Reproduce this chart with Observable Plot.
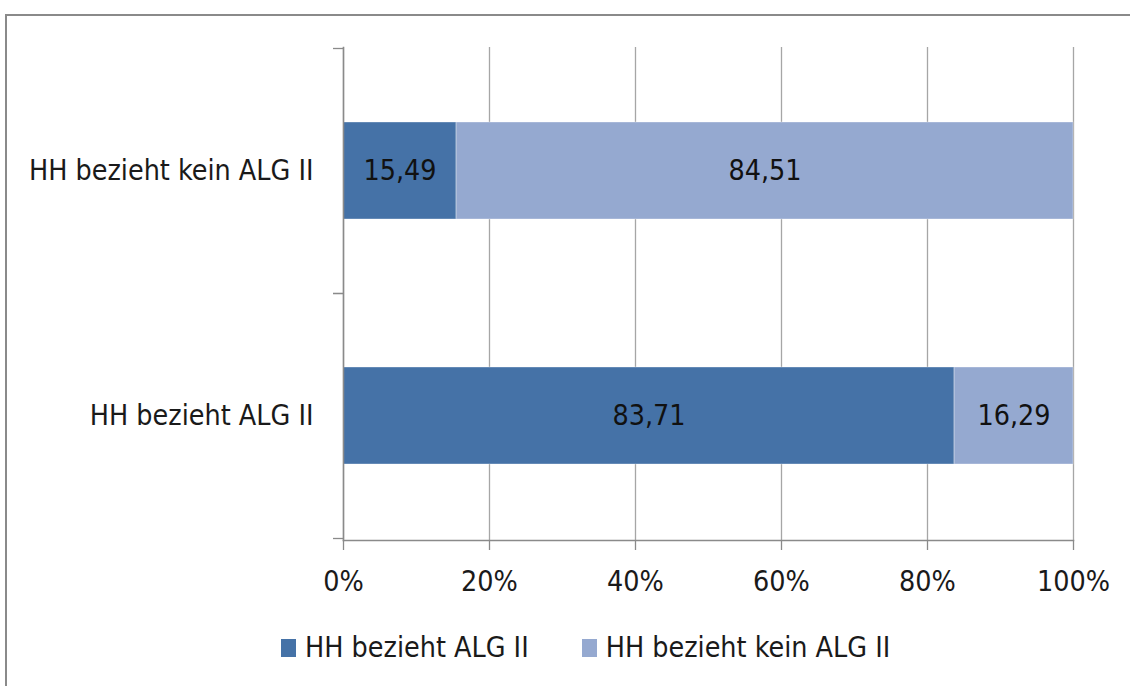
<!DOCTYPE html>
<html>
<head>
<meta charset="utf-8">
<script src="https://cdn.jsdelivr.net/npm/d3@7"></script>
<script src="https://cdn.jsdelivr.net/npm/@observablehq/plot@0.6"></script>
<style>
  html, body { margin: 0; padding: 0; background: #fff; overflow: hidden; }
  #wrap { position: relative; width: 1130px; height: 686px; overflow: hidden; font-family: "DejaVu Sans Condensed", sans-serif; }
  #frame { position: absolute; left: 5px; top: 14px; width: 1300px; height: 900px; border: 2px solid #8a8a8a; box-sizing: border-box; }
  #chart { position: absolute; left: 0; top: 0; }
  #legend { position: absolute; left: 281px; top: 631px; display: flex; align-items: center; font-size: 28.4px; color: #1a1a1a; }
  #legend .item { display: flex; align-items: center; margin-right: 53px; }
  #legend .sw { width: 15px; height: 18px; margin-right: 9px; }
</style>
</head>
<body>
<div id="wrap">
  <div id="frame"></div>
  <div id="chart"></div>
  <div id="legend"></div>
</div>
<script>
const categories = ["HH bezieht kein ALG II", "HH bezieht ALG II"];
const seriesNames = ["HH bezieht ALG II", "HH bezieht kein ALG II"];
const valuesALG = [15.49, 83.71];
const valuesKein = [84.51, 16.29];
const xTicks = [0, 20, 40, 60, 80, 100];
const colors = ["#4572A7", "#95A9D0"];

const rows = [];
categories.forEach((c, i) => {
  rows.push({category: c, series: seriesNames[0], value: valuesALG[i]});
  rows.push({category: c, series: seriesNames[1], value: valuesKein[i]});
});
const fmt = v => v.toFixed(2).replace(".", ",");

const fontFamily = '"DejaVu Sans Condensed", sans-serif';
const fs = 28.4;
const step = 245;

const plot = Plot.plot({
  width: 1130,
  height: 686,
  marginLeft: 343,
  marginRight: 57,
  marginTop: 47,
  marginBottom: 146,
  style: {fontFamily, fontSize: fs + "px", color: "#1a1a1a", background: "transparent", overflow: "visible"},
  x: {domain: [0, 100], label: null},
  y: {domain: categories, paddingInner: 0.604, paddingOuter: 0.308, label: null},
  color: {domain: seriesNames, range: colors},
  marks: [
    Plot.gridX(xTicks, {stroke: "#a6a6a6", strokeOpacity: 1, strokeWidth: 1.3}),
    Plot.barX(rows, Plot.stackX({x: "value", y: "category", z: "series", fill: "series", order: seriesNames, stroke: "white", strokeOpacity: 0.35, strokeWidth: 1})),
    Plot.text(rows, Plot.stackX({x: "value", y: "category", z: "series", order: seriesNames, text: d => fmt(d.value), fill: "#111", fontSize: fs})),
    Plot.axisX(xTicks, {tickFormat: d => d + "%", tickSize: 10, tickPadding: 20, stroke: "#8a8a8a", strokeWidth: 1.3, fontSize: fs, fill: "#1a1a1a", label: null}),
    Plot.frame({anchor: "bottom", stroke: "#8a8a8a", strokeWidth: 1.5}),
    Plot.frame({anchor: "left", stroke: "#8a8a8a", strokeWidth: 1.5}),
    Plot.axisY({tickSize: 0, tickPadding: 30, fontSize: fs, fill: "#1a1a1a", label: null}),
    Plot.axisY({text: null, tickSize: 10, stroke: "#8a8a8a", strokeWidth: 1.3, dy: -step / 2, label: null}),
    Plot.axisY({text: null, tickSize: 10, stroke: "#8a8a8a", strokeWidth: 1.3, dy: step / 2, label: null})
  ]
});
document.getElementById("chart").appendChild(plot);

const legend = document.getElementById("legend");
seriesNames.forEach((s, i) => {
  const item = document.createElement("div");
  item.className = "item";
  const sw = document.createElement("div");
  sw.className = "sw";
  sw.style.background = colors[i];
  const t = document.createElement("span");
  t.textContent = s;
  item.appendChild(sw);
  item.appendChild(t);
  legend.appendChild(item);
});
</script>
</body>
</html>
